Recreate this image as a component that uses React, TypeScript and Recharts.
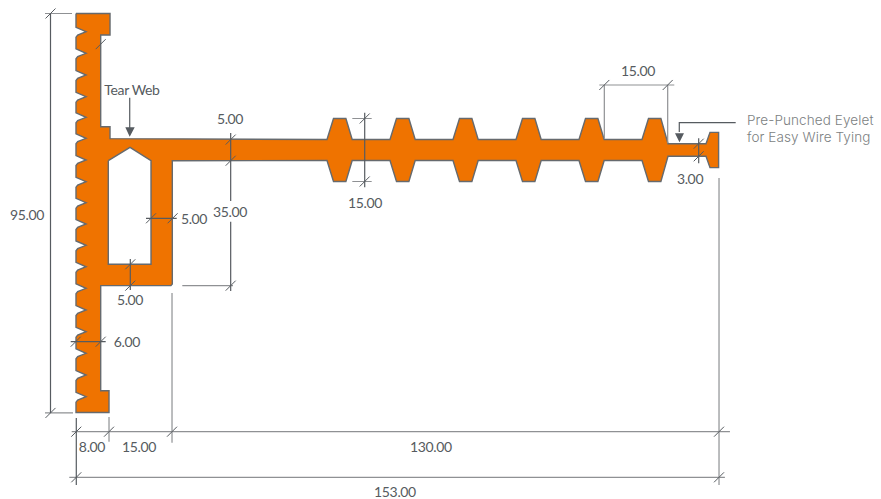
import { ComposedChart, Area, Line, Scatter, XAxis, YAxis } from 'recharts';

// all drawing values are in mm, x from the left face and y from the bottom of the profile
type Pt = [number, number];

const topLeftPart: Pt[] = [[0, 95], [8.1, 95], [8.1, 89.88], [5.88, 89.88], [5.88, 68.05], [8.1, 68.05], [8.1, 65.21]];
const bumpStarts = [59.76, 74.76, 89.76, 104.76, 119.76, 134.76];
const bumpOffsets = [0, 1.55, 4.5, 6.0];
const eyeletHead: Pt[] = [
  [140.96, 64], [150, 64], [150.95, 66.7], [153, 66.7],
  [153, 58.3], [150.95, 58.3], [150, 61], [140.96, 61],
];
const lowerPart: Pt[] = [
  [22.93, 59.95], [22.93, 30.6], [22.6, 30.2], [5.88, 30.2],
  [5.88, 5.19], [7.86, 5.19], [7.86, 0], [0, 0],
];
const notchHeights = [
  3.76, 8.93, 14.1, 19.24, 24.4, 29.57, 34.7, 39.8, 44.88,
  49.95, 54.95, 60.12, 65.29, 70.29, 75.19, 80.36, 85.52, 90.67,
];

const hole: Pt[] = [[7.69, 59.95], [12.86, 63.14], [17.86, 59.95], [17.86, 35.29], [7.69, 35.29], [7.69, 59.95]];
const tearArrowHead: Pt[] = [[11.74, 67.9], [13.98, 67.9], [12.79, 65.67], [11.74, 67.9]];
const eyeletArrowHead: Pt[] = [[142.62, 66.48], [144.76, 66.48], [143.69, 64.33], [142.62, 66.48]];

const dimensionLines: Pt[][] = [
  [[-6.07, 95], [-6.07, -0.1]],
  [[36.83, 66.55], [36.83, 50.36]],
  [[36.83, 45.43], [36.83, 28.93]],
  [[16.67, 46.24], [23.98, 46.24]],
  [[12.93, 36.55], [12.93, 29.17]],
  [[-1.26, 16.86], [7.07, 16.86]],
  [[68.74, 71.38], [68.74, 53.62]],
  [[148.26, 65.29], [148.26, 59.33]],
  [[0.07, -1.31], [0.07, -17.26]],
  [[12.79, 74.95], [12.79, 67.74]],
  [[157.07, 69], [143.64, 69], [143.64, 66.79]],
];
const extensionLines: Pt[][] = [
  [[-7.38, 95], [-0.95, 95]],
  [[-7.38, -0.1], [-0.71, -0.1]],
  [[-1.02, -4.57], [155.7, -4.57]],
  [[-1.6, -15.43], [154.5, -15.43]],
  [[7.86, -1.07], [7.86, -6.95]],
  [[22.86, 28.45], [22.86, -7.19]],
  [[153.1, 55.83], [153.1, -17.26]],
  [[25.31, 30.2], [37.38, 30.2]],
  [[65.79, 70], [70.4, 70]],
  [[65.79, 55], [70.4, 55]],
  [[124.6, 77.98], [142.45, 77.98]],
  [[125.79, 77.98], [125.79, 65.29]],
  [[140.88, 77.98], [140.88, 64.1]],
];
const tickMarks: Pt[] = [
  [-6.07, 95], [-6.07, -0.1], [0.07, -4.57], [7.86, -4.57], [22.86, -4.57], [153.1, -4.57],
  [0.07, -15.43], [153.1, -15.43], [36.83, 64.98], [36.83, 59.95], [36.83, 30.2],
  [17.86, 46.24], [23, 46.24], [12.93, 35.29], [12.93, 30.2], [-0.07, 16.86], [5.88, 16.86],
  [5.88, 87.7], [68.74, 70], [68.74, 55], [125.79, 77.98], [140.88, 77.98], [148.26, 64], [148.26, 61],
];

const dimensionTexts = ['95.00', 'Tear Web', '5.00', '35.00', '5.00', '5.00', '6.00', '8.00', '15.00', '130.00', '153.00', '15.00', '15.00', '3.00'];
const dimensionTextX = [-11.67, 13.33, 36.67, 36.67, 28.1, 12.86, 12.14, 3.81, 15, 84.5, 75.95, 68.8, 133.8, 146.2];
const dimensionTextY = [47.1, 77, 70.1, 47.75, 46.24, 27, 17, -8.2, -8, -8.2, -18.9, 50.1, 81.5, 55.6];
const calloutTexts = ['Pre-Punched Eyelet', 'for Easy Wire Tying'];
const calloutX = [159.76, 159.76];
const calloutY = [69.64, 65.6];

const WIDTH = 881;
const HEIGHT = 499;
const ORANGE = '#ef7300';
const OUTLINE = '#666a6e';
const DARK = '#565b60';
const LIGHT = '#8f9194';

const rows = (pts: Pt[]) => pts.map(([x, y]) => ({ x, y }));
// a row without y breaks the line, so one series can hold many separate strokes
const strokes = (lines: Pt[][]) =>
  lines.flatMap((pts) => [...rows(pts), { x: pts[pts.length - 1][0], y: null as number | null }]);
const textRows = (texts: string[], xs: number[], ys: number[]) =>
  texts.map((text, i) => ({ x: xs[i], y: ys[i], text }));

const outline: Pt[] = [
  ...topLeftPart,
  ...bumpStarts.flatMap((s, i) => {
    const right: Pt[] = i === bumpStarts.length - 1 ? [] : [[s + bumpOffsets[3], 65]];
    return [[s + bumpOffsets[0], 65], [s + bumpOffsets[1], 70], [s + bumpOffsets[2], 70], ...right] as Pt[];
  }),
  ...eyeletHead,
  ...[...bumpStarts].reverse().flatMap((s, i) => {
    const right: Pt[] = i === 0 ? [] : [[s + bumpOffsets[3], 60]];
    return [...right, [s + bumpOffsets[2], 55], [s + bumpOffsets[1], 55], [s + bumpOffsets[0], 60]] as Pt[];
  }),
  ...lowerPart,
  ...notchHeights.flatMap((h) => [[0, h - 1.3], [0.4, h - 0.8], [2.4, h], [0, h + 1.05]] as Pt[]),
  [0, 95],
];

const TickShape = ({ cx, cy }: any) => (
  <line x1={cx - 5} y1={cy + 5} x2={cx + 5} y2={cy - 5} stroke={DARK} strokeWidth={1} />
);
const DimensionText = ({ cx, cy, payload }: any) => (
  <text x={cx} y={cy} textAnchor="middle" dominantBaseline="central" fontFamily="Lato" fontSize={14} letterSpacing={-0.35} fill={DARK}>
    {payload.text}
  </text>
);
const CalloutText = ({ cx, cy, payload }: any) => (
  <text x={cx} y={cy} dominantBaseline="central" fontFamily="Inter" fontWeight={300} fontSize={13.5} letterSpacing={0.1} fill="#7c7f82">
    {payload.text}
  </text>
);

export default function App() {
  return (
    <div style={{ position: 'absolute', left: 0, top: 0 }}>
      <ComposedChart width={WIDTH} height={HEIGHT} margin={{ top: 0, right: 0, bottom: 0, left: 0 }}>
        <XAxis type="number" dataKey="x" domain={[-18.095, 191.667]} hide />
        <YAxis type="number" dataKey="y" domain={[-20.595, 98.214]} hide />
        <Area data={rows(outline)} dataKey="y" type="linear" baseValue={0} fill={ORANGE} fillOpacity={1} stroke={OUTLINE} strokeWidth={1.4} isAnimationActive={false} />
        <Area data={rows(hole)} dataKey="y" type="linear" baseValue={0} fill="#ffffff" fillOpacity={1} stroke={OUTLINE} strokeWidth={1.4} isAnimationActive={false} />
        <Area data={rows(tearArrowHead)} dataKey="y" type="linear" baseValue={60} fill={DARK} fillOpacity={1} stroke="none" isAnimationActive={false} />
        <Area data={rows(eyeletArrowHead)} dataKey="y" type="linear" baseValue={60} fill={DARK} fillOpacity={1} stroke="none" isAnimationActive={false} />
        <Line data={strokes(extensionLines)} dataKey="y" type="linear" stroke={LIGHT} strokeWidth={1.2} dot={false} isAnimationActive={false} />
        <Line data={strokes(dimensionLines)} dataKey="y" type="linear" stroke={DARK} strokeWidth={1.2} dot={false} isAnimationActive={false} />
        <Scatter data={rows(tickMarks)} dataKey="y" shape={TickShape} isAnimationActive={false} />
        <Scatter data={textRows(dimensionTexts, dimensionTextX, dimensionTextY)} dataKey="y" shape={DimensionText} isAnimationActive={false} />
        <Scatter data={textRows(calloutTexts, calloutX, calloutY)} dataKey="y" shape={CalloutText} isAnimationActive={false} />
      </ComposedChart>
    </div>
  );
}
